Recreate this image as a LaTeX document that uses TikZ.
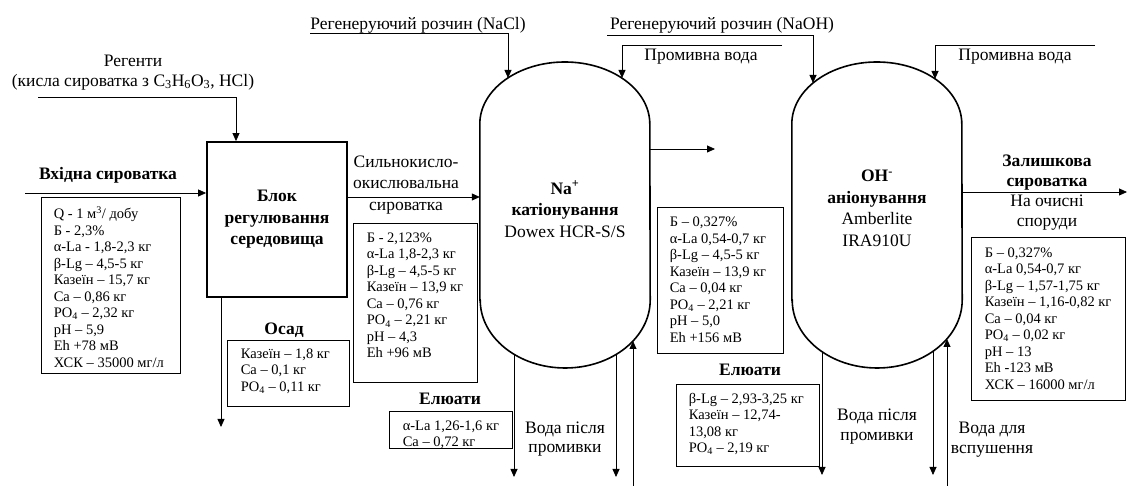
\documentclass[tikz,border=0pt]{standalone}
\usepackage{fontspec}
\setmainfont{Liberation Serif}
\usetikzlibrary{arrows.meta,positioning}
\newcommand\lblfont{\fontsize{17.5}{21.5}\selectfont}
\newcommand\datafont{\fontsize{14.5}{16.5}\selectfont}

\begin{document}
\begin{tikzpicture}[x=1pt,y=1pt,>={Triangle[length=8pt,width=7pt]},
    flow/.style={->,line width=0.8pt},
    lbl/.style={font=\lblfont,align=center,inner sep=0pt},
    blbl/.style={lbl,font=\lblfont\bfseries},
    databox/.style={draw,line width=0.8pt,inner sep=0pt},
    datatext/.style={font=\datafont,align=left,anchor=west,inner sep=0pt},
    vessel/.style={line width=1.6pt},
    vesseltext/.style={lbl,minimum width=170pt}]
\useasboundingbox (0,0) rectangle (1129,486);

% feed and conditioning block
\node[draw,line width=1.8pt,minimum width=140pt,minimum height=155pt,
      font=\lblfont\bfseries,align=center] (block) at (277,266.5) {Блок\\регулювання\\середовища};
\node[lbl,font=\fontsize{17.5}{19.5}\selectfont] (reagtxt) at (133,413.5)
    {Регенти\\(кисла сироватка з C\textsubscript{3}H\textsubscript{6}O\textsubscript{3}, HCl)};
\node[blbl] (feedtxt) at (108,311) {Вхідна сироватка};
\node[databox,minimum width=139pt,minimum height=176pt] (feedbox) at (110.5,201) {};
\node[datatext] (feeddata) at ([xshift=13pt,yshift=-2pt]feedbox.west)
    {Q - 1 м\textsuperscript{3}/ добу\\Б - 2,3\%\\α-La - 1,8-2,3 кг\\β-Lg – 4,5-5 кг\\Казеїн – 15,7 кг\\
     Ca – 0,86 кг\\PO\textsubscript{4} – 2,32 кг\\pH – 5,9\\Eh +78 мВ\\ХСК – 35000 мг/л};
\node[blbl] (sludgetxt) at (284,156) {Осад};
\node[databox,minimum width=122pt,minimum height=66pt] (sludgebox) at (288,113) {};
\node[datatext] (sludgedata) at ([xshift=14pt,yshift=2pt]sludgebox.west)
    {Казеїн – 1,8 кг\\Ca – 0,1 кг\\PO\textsubscript{4} – 0,11 кг};
\node[lbl] (acidtxt) at (406,301) {Сильнокисло-\\окислювальна\\сироватка};
\node[databox,minimum width=124pt,minimum height=159pt] (acidbox) at (415,183.5) {};
\node[datatext] (aciddata) at ([xshift=14pt,yshift=7pt]acidbox.west)
    {Б - 2,123\%\\α-La 1,8-2,3 кг\\β-Lg – 4,5-5 кг\\Казеїн – 13,9 кг\\Ca – 0,76 кг\\
     PO\textsubscript{4} – 2,21 кг\\pH – 4,3\\Eh +96 мВ};

% cation column
\node[vesseltext] (cat) at (565,277) {\textbf{Na\textsuperscript{+}}\\\textbf{катіонування}\\Dowex HCR-S/S};
\draw[vessel] (cat.west |- 0,186) -- (cat.west |- 0,362)
    arc[start angle=180,end angle=0,x radius=85pt,y radius=62pt] -- (cat.east |- 0,186)
    arc[start angle=0,end angle=-180,x radius=85pt,y radius=68pt] -- cycle;
\node[lbl] (nacltxt) at (418,461) {Регенеруючий розчин (NaCl)};
\node[lbl] (wash1txt) at (701,429) {Промивна вода};
\node[blbl] (elu1txt) at (450,87) {Елюати};
\node[databox,minimum width=123pt,minimum height=37pt] (elu1box) at (450.5,56.5) {};
\node[datatext] (elu1data) at ([xshift=14pt,yshift=-5.5pt]elu1box.west)
    {α-La 1,26-1,6 кг\\Ca – 0,72 кг};
\node[lbl,font=\fontsize{17.5}{19}\selectfont] (rinse1txt) at (565,47) {Вода після\\промивки};
\node[databox,minimum width=126pt,minimum height=146pt] (catbox) at (720,206) {};
\node[datatext] (catdata) at ([xshift=13pt]catbox.west)
    {Б – 0,327\%\\α-La 0,54-0,7 кг\\β-Lg – 4,5-5 кг\\Казеїн – 13,9 кг\\Ca – 0,04 кг\\
     PO\textsubscript{4} – 2,21 кг\\pH – 5,0\\Eh +156 мВ};

% anion column
\node[vesseltext] (an) at (877,277.5) {\textbf{OH\textsuperscript{-}}\\\textbf{аніонування}\\Amberlite\\IRA910U};
\draw[vessel] (an.west |- 0,186) -- (an.west |- 0,362)
    arc[start angle=180,end angle=0,x radius=85pt,y radius=62pt] -- (an.east |- 0,186)
    arc[start angle=0,end angle=-180,x radius=85pt,y radius=68pt] -- cycle;
\node[lbl] (naohtxt) at (722,461) {Регенеруючий розчин (NaOH)};
\node[lbl] (wash2txt) at (1015,429) {Промивна вода};
\node[blbl] (elu2txt) at (750,116) {Елюати};
\node[databox,minimum width=143pt,minimum height=82pt] (elu2box) at (747.5,61) {};
\node[datatext] (elu2data) at ([xshift=13pt,yshift=1pt]elu2box.west)
    {β-Lg – 2,93-3,25 кг\\Казеїн – 12,74-\\13,08 кг\\PO\textsubscript{4} – 2,19 кг};
\node[lbl,font=\fontsize{17.5}{20}\selectfont] (rinse2txt) at (877,59) {Вода після\\промивки};
\node[lbl,font=\fontsize{17.5}{20}\selectfont] (loosetxt) at (992,46) {Вода для\\вспушення};
\node[lbl,font=\fontsize{17.5}{20}\selectfont] (outtxt) at (1047,293.5)
    {\textbf{Залишкова}\\\textbf{сироватка}\\На очисні\\споруди};
\node[databox,minimum width=154pt,minimum height=163pt] (outbox) at (1048,167.5) {};
\node[datatext] (outdata) at ([xshift=14pt]outbox.west)
    {Б – 0,327\%\\α-La 0,54-0,7 кг\\β-Lg – 1,57-1,75 кг\\Казеїн – 1,16-0,82 кг\\Ca – 0,04 кг\\
     PO\textsubscript{4} – 0,02 кг\\pH – 13\\Eh -123 мВ\\ХСК – 16000 мг/л};

% connectors
\coordinate (feed) at (25,293);
\coordinate (reag) at (38,389);
\coordinate (sludge) at (221,59);
\draw[flow] (feed) -- (feed -| block.west);
\draw[flow] (reag) -| ([xshift=-41pt]block.north);
\draw[flow] (sludge |- block.south) -- (sludge);
\draw[flow] (block.east |- 0,289) -- (cat.west |- 0,289);

\coordinate (naclsrc) at (310,453);
\coordinate (naclin) at (508,408);
\coordinate (wash1src) at (782,441);
\coordinate (wash1in) at (622,408);
\coordinate (naohsrc) at (607,451);
\coordinate (naohin) at (813,403);
\coordinate (wash2src) at (1095,441);
\coordinate (wash2in) at (935,407);
\draw[flow] (naclsrc) -| (naclin);
\draw[flow] (wash1src) -| (wash1in);
\draw[flow] (naohsrc) -| (naohin);
\draw[flow] (wash2src) -| (wash2in);

\coordinate (catout) at (715,337);
\coordinate (drain) at (1127,294);
\draw[flow] (catout -| cat.east) -- (catout);
\draw[flow] (drain -| an.east) -- (drain);

\coordinate (c1) at (514,132);
\coordinate (c2) at (616,132);
\coordinate (c3) at (633,145);
\coordinate (a1) at (822,134);
\coordinate (a2) at (933,135);
\coordinate (a3) at (947,147);
\draw[flow] (c1) -- (c1 |- 0,9);
\draw[flow] (c2) -- (c2 |- 0,9);
\draw[flow] (c3 |- 0,0) -- (c3);
\draw[flow] (a1) -- (a1 |- 0,11);
\draw[flow] (a2) -- (a2 |- 0,11);
\draw[flow] (a3 |- 0,0) -- (a3);
\end{tikzpicture}
\end{document}
